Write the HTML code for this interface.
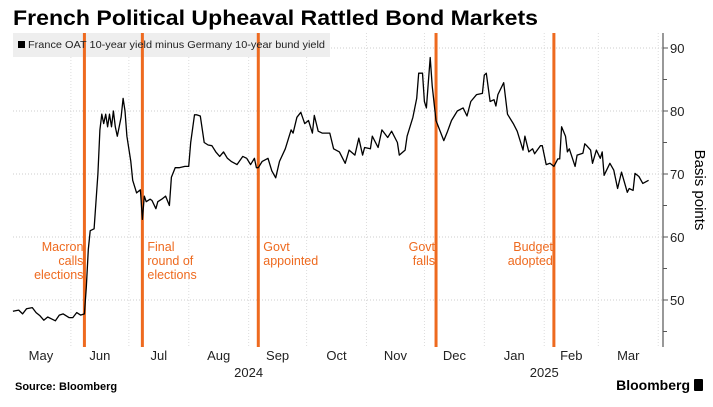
<!DOCTYPE html>
<html><head><meta charset="utf-8"><style>
body{margin:0;background:#fff;width:713px;height:402px;overflow:hidden;font-family:"Liberation Sans",sans-serif}
svg text{font-family:"Liberation Sans",sans-serif}
</style></head><body>
<svg id="chart" width="713" height="402" viewBox="0 0 713 402" xmlns="http://www.w3.org/2000/svg">
<text x="13" y="25" font-size="21.5" font-weight="bold" fill="#000" textLength="525" lengthAdjust="spacingAndGlyphs">French Political Upheaval Rattled Bond Markets</text>
<g id="grid"></g>
<rect x="13" y="33" width="317" height="24" fill="#eeeeee"/>
<g id="events"></g>
<rect x="18" y="41" width="7" height="7" fill="#000"/>
<text x="28" y="48" font-size="10.5" fill="#222" textLength="297" lengthAdjust="spacingAndGlyphs">France OAT 10-year yield minus Germany 10-year bund yield</text>
<g id="series"></g>
<g id="axes"></g>
<text transform="translate(695,190) rotate(90)" text-anchor="middle" font-size="15" fill="#000">Basis points</text>
<text x="15" y="390" font-size="11" font-weight="bold" fill="#000">Source: Bloomberg</text>
<text x="690" y="390" text-anchor="end" font-size="14" font-weight="bold" fill="#000">Bloomberg</text>
<rect x="694" y="379" width="9" height="12" rx="1" fill="#000"/>
</svg>
<script>
const days=[1,4,6,8,11,13,15,17,19,21,23,25,27,30,32,34,36,38,39,40,41,43,45,46,47,48,49,50,51,52,53,54,55,57,58,59,60,62,63,65,67,68,69,70,72,73,75,76,78,80,82,83,85,87,90,92,93,95,96,98,100,102,104,106,108,110,112,114,117,120,122,124,126,127,128,130,133,135,137,139,142,145,146,148,150,152,154,156,157,159,161,165,167,170,173,175,178,180,182,183,186,187,190,192,195,197,200,201,204,205,208,210,211,213,214,215,217,218,220,224,226,228,231,234,236,238,241,244,245,246,248,250,251,252,255,257,260,262,265,266,268,270,271,274,275,277,279,281,283,284,285,287,288,289,292,293,296,297,298,300,301,303,305,306,307,310,312,314,316,319,320,322,323,325,327,330];
const values=[48.2,48.4,47.8,48.6,48.8,48,47.5,46.8,47.3,47,46.7,47.6,47.8,47.2,47.2,48,47.6,47.8,52,58,61,61.3,70,77,79.5,78,79.5,77.5,79.5,77.5,80,77.5,76,79,82,80,76,72,69,67,67.5,62.8,66.5,65.6,66,65.8,64.5,65.6,66,66.5,65,69.5,71,71,71.2,71.2,75,79.4,79.4,79.2,75,74.6,74.5,73.5,72.8,73.5,72.5,72,71.5,72.8,72.5,71.5,72.5,71,71,72,72.5,70.5,69.4,72,74,77,76.5,79,79.8,78,78.5,76.5,79.3,76.8,76.5,76.5,74,73.5,71.7,73.8,73,75.7,73,74.2,74,76,74.2,77,75.8,76.8,75,73,73.8,76,79,82,86,86,81.5,80.5,88.5,84,78.5,75.3,76.8,78.5,80,80.5,79.2,81.5,82.6,82.8,85.7,86,81.5,81.8,80.8,82.6,84.5,79.5,78,76.8,73.8,76,73.5,74,73.2,74.5,74.5,71.5,71.7,71.2,72.4,72.4,77.5,76,73.5,74,71.2,73,73.3,74.8,74.5,73.8,71.7,73.8,72.5,73.5,69.8,71.7,70.6,67.7,70.3,67.1,67.7,67.4,70.1,69.6,68.5,69];
const yTicks=[50,60,70,80,90];
const yMinorTicks=[45,55,65,75,85];
const monthLabels=["May","Jun","Jul","Aug","Sep","Oct","Nov","Dec","Jan","Feb","Mar"];
const monthStarts=[0,31,61,92,123,153,184,214,245,276,304,335];
const yearLabels=["2024","2025"];
const eventDays=[38,68,128,220,281];
const eventLabels=[["Macron","calls","elections"],["Final","round of","elections"],["Govt","appointed"],["Govt","falls"],["Budget","adopted"]];
const eventSide=["left","right","right","left","left"];

const NS="http://www.w3.org/2000/svg";
const X=d=>11+d*1.932;
const Y=v=>174-(v-70)*6.3;
const L=13,R=663,T=33,B=347;
function mk(tag,attrs,parent){const e=document.createElementNS(NS,tag);for(const k in attrs)e.setAttribute(k,attrs[k]);parent.appendChild(e);return e;}
const grid=document.getElementById('grid'),axes=document.getElementById('axes'),ev=document.getElementById('events'),ser=document.getElementById('series');
yTicks.forEach(v=>{
 const g=mk('line',{x1:L,x2:R,y1:Y(v),y2:Y(v),stroke:'#ccc','stroke-width':1,'stroke-dasharray':'1,2'},grid);
 
 
 const t=mk('line',{x1:R,x2:R+5,y1:Y(v),y2:Y(v),stroke:'#555','stroke-width':1},axes);
 
 
 const tx=mk('text',{x:R+7,y:Y(v)+5,'font-size':13,fill:'#222'},axes);tx.textContent=v;
 
 
});
yMinorTicks.forEach(v=>{
 const t=mk('line',{x1:R,x2:R+4,y1:Y(v),y2:Y(v),stroke:'#555','stroke-width':1},axes);
 
 
});
const ax=mk('line',{x1:R,x2:R,y1:T,y2:B,stroke:'#555','stroke-width':1.2},axes);


monthStarts.forEach((d,i)=>{
 if(i>0){const g=mk('line',{x1:X(d),x2:X(d),y1:T,y2:B,stroke:'#ddd','stroke-width':1,'stroke-dasharray':'1,2'},grid);
 
 }
 if(i<monthLabels.length){const t=mk('text',{x:(X(d)+X(monthStarts[i+1]))/2,y:360,'text-anchor':'middle','font-size':13,fill:'#222'},axes);t.textContent=monthLabels[i];
 
 }
});
[[yearLabels[0],X(123)],[yearLabels[1],X(276)]].forEach(([s,x])=>{
 const t=mk('text',{x:x,y:377,'text-anchor':'middle','font-size':13,fill:'#222'},axes);t.textContent=s;
 
 
});
eventDays.forEach((d,i)=>{
 const x=X(d);
 const l=mk('line',{x1:x,x2:x,y1:T,y2:B,stroke:'#ee6a1f','stroke-width':3},ev);
 
 
 const left=eventSide[i]==='left';
 eventLabels[i].forEach((s,j)=>{
  const t=mk('text',{x:left?x-1:x+5,y:251+j*14,'text-anchor':left?'end':'start','font-size':12.5,fill:'#ee6a1f'},ev);t.textContent=s;
  
  
 });
});
const p=mk('path',{d:days.map((d,i)=>(i?'L':'M')+X(d).toFixed(1)+','+Y(values[i]).toFixed(1)).join(''),fill:'none',stroke:'#000','stroke-width':1.3,'stroke-linejoin':'round'},ser);


</script>
</body></html>
